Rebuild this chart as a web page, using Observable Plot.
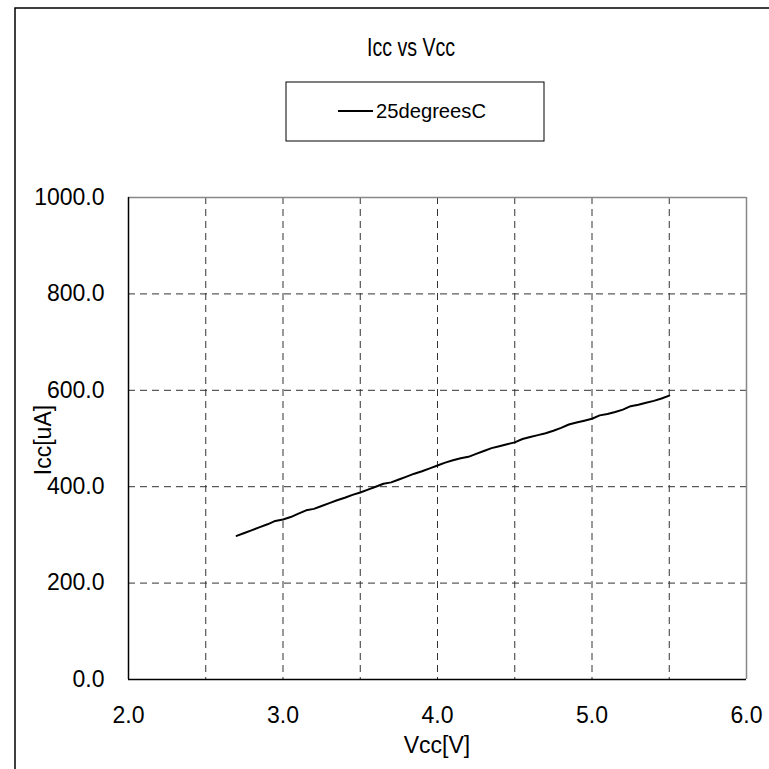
<!DOCTYPE html>
<html>
<head>
<meta charset="utf-8">
<script src="https://cdn.jsdelivr.net/npm/d3@7"></script>
<script src="https://cdn.jsdelivr.net/npm/@observablehq/plot@0.6"></script>
<style>
  html, body { margin: 0; padding: 0; background: #fff; }
  svg { display: block; font-family: "Liberation Sans", Arial, sans-serif; }
</style>
</head>
<body>
<div id="chart"></div>
<script>
const title = "Icc vs Vcc";
const seriesName = "25degreesC";
const xLabel = "Vcc[V]";
const yLabel = "Icc[uA]";

const vcc = [2.70, 2.75, 2.80, 2.85, 2.90, 2.95, 3.00, 3.05, 3.10, 3.15, 3.20, 3.25, 3.30, 3.35, 3.40, 3.45,
  3.50, 3.55, 3.60, 3.65, 3.70, 3.75, 3.80, 3.85, 3.90, 3.95, 4.00, 4.05, 4.10, 4.15, 4.20, 4.25, 4.30,
  4.35, 4.40, 4.45, 4.50, 4.55, 4.60, 4.65, 4.70, 4.75, 4.80, 4.85, 4.90, 4.95, 5.00, 5.05, 5.10, 5.15,
  5.20, 5.25, 5.30, 5.35, 5.40, 5.45, 5.50];
const icc = [298, 304, 310, 316, 322, 329, 332, 337, 344, 351, 354, 360, 366, 372, 377, 383,
  388, 394, 400, 406, 409, 415, 421, 427, 432, 438, 444, 450, 455, 459, 462, 468, 474,
  480, 484, 488, 492, 499, 503, 507, 511, 516, 522, 529, 533, 537, 541, 548, 551, 555,
  560, 567, 570, 574, 578, 583, 589];

const xTicks = [2, 3, 4, 5, 6];
const xGrid = [2.5, 3, 3.5, 4, 4.5, 5, 5.5];
const yTicks = [0, 200, 400, 600, 800, 1000];
const yGrid = [200, 400, 600, 800];

const data = vcc.map((v, i) => ({v, i: icc[i]}));
const fmt = d3.format(".1f");

const W = 769, H = 769;
const plot = Plot.plot({
  width: W, height: H,
  marginLeft: 128, marginRight: 23, marginTop: 197, marginBottom: 90,
  style: {fontFamily: '"Liberation Sans", Arial, sans-serif', fontSize: "23px", background: "#fff", overflow: "visible"},
  x: {domain: [2, 6], label: null},
  y: {domain: [0, 1000], label: null},
  marks: [
    Plot.ruleX(xGrid, {stroke: "#333", strokeWidth: 1, strokeDasharray: "7,5"}),
    Plot.ruleY(yGrid, {stroke: "#333", strokeWidth: 1, strokeDasharray: "7,5"}),
    Plot.ruleX([6], {stroke: "#888", strokeWidth: 1.5}),
    Plot.ruleY([1000], {stroke: "#888", strokeWidth: 1.5}),
    Plot.ruleX([2], {stroke: "#000", strokeWidth: 1.5}),
    Plot.ruleY([0], {stroke: "#000", strokeWidth: 1.5}),
    Plot.line(data, {x: "v", y: "i", stroke: "#000", strokeWidth: 2}),
    Plot.axisX(xTicks, {tickSize: 0, tickPadding: 27, tickFormat: fmt, fontSize: 23, fill: "#000", label: null}),
    Plot.axisY(yTicks, {tickSize: 0, tickPadding: 24, tickFormat: fmt, fontSize: 23, fill: "#000", label: null})
  ]
});

const svg = d3.select(plot);
// outer chart border
svg.append("rect").attr("x", 15).attr("y", 8).attr("width", 800).attr("height", 800)
  .attr("fill", "none").attr("stroke", "#000").attr("stroke-width", 1.5);
// title
svg.append("text").attr("x", 411).attr("y", 56).attr("text-anchor", "middle")
  .attr("font-size", 25).attr("textLength", 88).attr("lengthAdjust", "spacingAndGlyphs")
  .attr("fill", "#000").text(title);
// legend
svg.append("rect").attr("x", 286).attr("y", 82).attr("width", 258).attr("height", 59)
  .attr("fill", "#fff").attr("stroke", "#000").attr("stroke-width", 1);
svg.append("line").attr("x1", 338).attr("x2", 373).attr("y1", 111).attr("y2", 111)
  .attr("stroke", "#000").attr("stroke-width", 2);
svg.append("text").attr("x", 376).attr("y", 118).attr("text-anchor", "start")
  .attr("font-size", 21).attr("textLength", 110).attr("lengthAdjust", "spacingAndGlyphs")
  .attr("fill", "#000").text(seriesName);
// axis titles
svg.append("text").attr("x", 437).attr("y", 753).attr("text-anchor", "middle")
  .attr("font-size", 23).attr("fill", "#000").text(xLabel);
svg.append("text").attr("transform", "translate(51,440) rotate(-90)").attr("text-anchor", "middle")
  .attr("font-size", 23).attr("fill", "#000").text(yLabel);

document.getElementById("chart").appendChild(plot);
</script>
</body>
</html>
